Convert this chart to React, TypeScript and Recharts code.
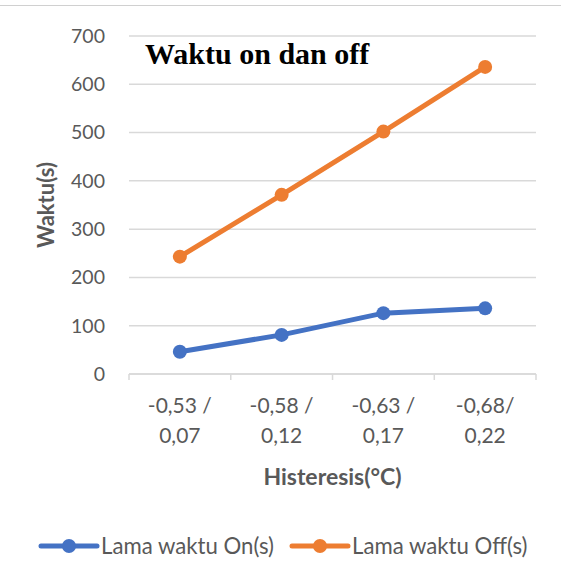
import { LineChart, Line, XAxis, YAxis, CartesianGrid, Legend } from 'recharts';

const categories = ['-0,53 / 0,07', '-0,58 / 0,12', '-0,63 / 0,17', '-0,68/ 0,22'];
const onTimes = [46, 81, 126, 136];
const offTimes = [243, 371, 502, 636];
const yTicks = [0, 100, 200, 300, 400, 500, 600, 700];

const data = categories.map((c, i) => ({ cat: c, on: onTimes[i], off: offTimes[i] }));

const BLUE = '#4472c4';
const ORANGE = '#ed7d31';
const GRID = '#d9d9d9';
const TEXT = '#595959';
const FONT = 'Lato, "Open Sans", sans-serif';
const BAND = 101.7;

function XTick(props: any) {
  const { x, y, payload, index } = props;
  const s: string = payload.value;
  const cut = s.lastIndexOf(' ');
  const l1 = s.slice(0, cut);
  const l2 = s.slice(cut + 1);
  return (
    <g>
      <line x1={x - BAND / 2} x2={x - BAND / 2} y1={y} y2={y + 6} stroke={GRID} strokeWidth={1.5} />
      {index === categories.length - 1 && (
        <line x1={x + BAND / 2} x2={x + BAND / 2} y1={y} y2={y + 6} stroke={GRID} strokeWidth={1.5} />
      )}
      <text x={x} y={y + 39} textAnchor="middle" fill={TEXT} fontSize={21} fontFamily={FONT}>{l1}</text>
      <text x={x} y={y + 69} textAnchor="middle" fill={TEXT} fontSize={21} fontFamily={FONT}>{l2}</text>
    </g>
  );
}

function LegendBox() {
  const items = [
    { name: 'Lama waktu On(s)', color: BLUE },
    { name: 'Lama waktu Off(s)', color: ORANGE },
  ];
  return (
    <div style={{ display: 'flex', width: 561, whiteSpace: 'nowrap', paddingLeft: 38, paddingTop: 5, height: 60, boxSizing: 'border-box' }}>
      {items.map((it) => (
        <div key={it.name} style={{ display: 'flex', flexShrink: 0, alignItems: 'center', marginRight: 15, lineHeight: '27px' }}>
          <svg width={62} height={20} style={{ flexShrink: 0 }}>
            <line x1={3} x2={59} y1={10} y2={10} stroke={it.color} strokeWidth={5} strokeLinecap="round" />
            <circle cx={31} cy={10} r={7} fill={it.color} />
          </svg>
          <span style={{ fontFamily: FONT, fontSize: 22.2, color: TEXT, marginLeft: 1 }}>{it.name}</span>
        </div>
      ))}
    </div>
  );
}

export default function App() {
  return (
    <div style={{ position: 'absolute', left: 0, top: 0, width: 561, height: 573, background: '#fff' }}>
      <div style={{ position: 'absolute', left: 0, top: 5, width: 561, height: 1, background: '#d0d0d0' }} />
      <LineChart width={561} height={573} data={data} margin={{ top: 36, right: 25, left: 0, bottom: 0 }}>
        <CartesianGrid vertical={false} stroke={GRID} strokeWidth={1.5} />
        <XAxis
          dataKey="cat"
          height={139}
          tick={<XTick />}
          tickLine={false}
          tickSize={0}
          tickMargin={0}
          padding={{ left: BAND / 2, right: BAND / 2 }}
          axisLine={{ stroke: GRID, strokeWidth: 1.5 }}
          interval={0}
          label={{ value: 'Histeresis(°C)', position: 'insideBottom', offset: 28, fill: TEXT, fontSize: 23, fontWeight: 700, fontFamily: FONT }}
        />
        <YAxis
          width={129}
          domain={[0, 700]}
          ticks={yTicks}
          tick={{ fill: TEXT, fontSize: 19.5, fontFamily: FONT }}
          tickLine={false}
          axisLine={false}
          tickSize={0}
          tickMargin={24}
          label={{ value: 'Waktu(s)', angle: -90, position: 'insideLeft', offset: 46, fill: TEXT, fontSize: 22, fontWeight: 700, fontFamily: FONT, style: { textAnchor: 'middle' } }}
        />
        <Legend verticalAlign="bottom" wrapperStyle={{ left: 0, width: 561 }} content={() => <LegendBox />} />
        <Line dataKey="on" name="Lama waktu On(s)" stroke={BLUE} strokeWidth={5} dot={{ r: 7, fill: BLUE, stroke: BLUE, strokeWidth: 0 }} isAnimationActive={false} />
        <Line dataKey="off" name="Lama waktu Off(s)" stroke={ORANGE} strokeWidth={5} dot={{ r: 7, fill: ORANGE, stroke: ORANGE, strokeWidth: 0 }} isAnimationActive={false} />
      </LineChart>
      <div style={{ position: 'absolute', left: 145, top: 63, transform: 'translateY(-80%)', lineHeight: 1, fontFamily: '"Liberation Serif", "Times New Roman", serif', fontWeight: 700, fontSize: 30, color: '#000' }}>
        Waktu on dan off
      </div>
    </div>
  );
}
